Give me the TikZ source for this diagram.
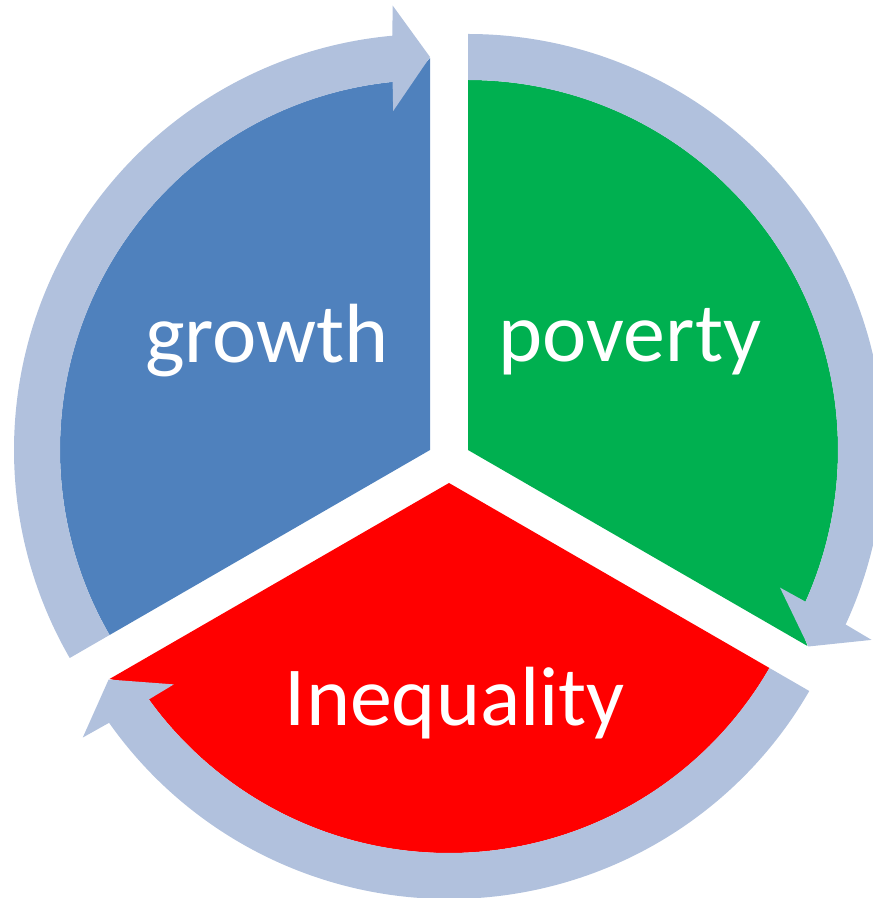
\documentclass[tikz,border=0pt]{standalone}
\usepackage{fontspec}
\newfontfamily\labfont{Carlito}
\definecolor{segblue}{HTML}{4F81BD}
\definecolor{seggreen}{HTML}{00B050}
\definecolor{segred}{HTML}{FF0000}
\definecolor{ringc}{RGB}{177,193,221}
\begin{document}
\begin{tikzpicture}[x=1pt,y=1pt,
  lab/.style={text=white,font=\labfont\fontsize{84}{84}\selectfont,inner sep=0pt,anchor=base},
  ringarrow/.style={fill=ringc}]
\useasboundingbox (0,0) rectangle (873,898);
\clip (0,0) rectangle (873,898);
% blue segment and its arrow
\begin{scope}[shift={(430,448)}]
  \fill[segblue] (0,0) -- (90:392) -- (93:370) arc[start angle=93,end angle=210,radius=370] -- cycle;
\end{scope}
% green segment
\begin{scope}[shift={(468,448)}]
  \fill[seggreen] (0,0) -- (90:370) arc[start angle=90,end angle=-27,radius=370] -- (-30:392) -- cycle;
\end{scope}
% red segment
\begin{scope}[shift={(449,415)}]
  \fill[segred] (0,0) -- (-30:370) arc[start angle=-30,end angle=-147,radius=370] -- (-150:392) -- cycle;
\end{scope}
% arrows
\begin{scope}[shift={(430,448)}]
  \fill[ringarrow] (210:370) -- (210:416) arc[start angle=210,end angle=95.2,radius=416]
    -- (94.8:446) -- (90:393) -- (96.2:341) -- (95.8:370)
    arc[start angle=95.8,end angle=210,radius=370] -- cycle;
\end{scope}
\begin{scope}[shift={(468,448)}]
  \fill[ringarrow] (90:370) -- (90:416) arc[start angle=90,end angle=-24.8,radius=416]
    -- (-25.2:446) -- (-30:393) -- (-23.8:341) -- (-24.2:370)
    arc[start angle=-24.2,end angle=90,radius=370] -- cycle;
\end{scope}
\begin{scope}[shift={(449,415)}]
  \fill[ringarrow] (-30:370) -- (-30:416) arc[start angle=-30,end angle=-144.8,radius=416]
    -- (-145.2:446) -- (-150:393) -- (-143.8:341) -- (-144.2:370)
    arc[start angle=-144.2,end angle=-30,radius=370] -- cycle;
\end{scope}
% labels
\node[lab] (growth) at (267,535) {growth};
\node[lab] (poverty) at (630,536) {poverty};
\node[lab] (inequality) at (455,172) {Inequality};
\end{tikzpicture}
\end{document}
